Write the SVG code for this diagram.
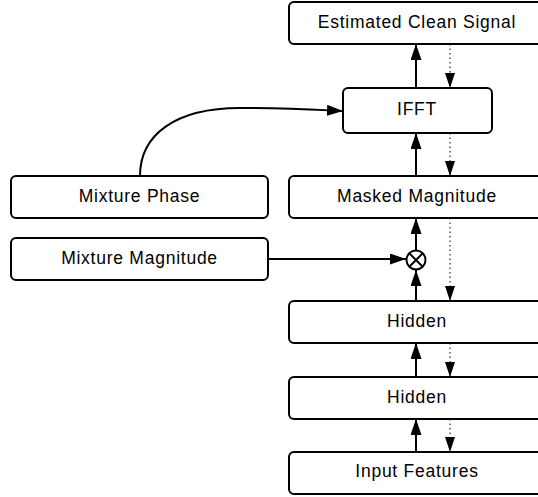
<svg xmlns="http://www.w3.org/2000/svg" width="538" height="497" viewBox="0 0 538 497">
  <style>
    .box { fill: #ffffff; stroke: #000000; stroke-width: 2; }
    .lbl { font-family: "Liberation Sans", Arial, sans-serif; font-size: 17.5px; letter-spacing: 0.75px; fill: #000000; text-anchor: middle; }
    .up { fill: none; stroke: #000000; stroke-width: 2; marker-end: url(#solidHead); }
    .down { fill: none; stroke: #000000; stroke-width: 1; stroke-dasharray: 1.5 3; marker-end: url(#dotHead); }
  </style>
  <defs>
    <marker id="solidHead" viewBox="0 0 16 11" refX="16" refY="5.5" markerWidth="16" markerHeight="11" markerUnits="userSpaceOnUse" orient="auto">
      <path d="M0,0 L16,5.5 L0,11 Z" fill="#000000"/>
    </marker>
    <marker id="dotHead" viewBox="0 0 15 10" refX="15" refY="5" markerWidth="15" markerHeight="10" markerUnits="userSpaceOnUse" orient="auto">
      <path d="M0,0 L15,5 L0,10 Z" fill="#000000"/>
    </marker>
  </defs>

  <g id="connectors">
    <!-- forward (solid) arrows -->
    <path class="up" d="M416,88 L416,44"/>
    <path class="up" d="M416,176 L416,133"/>
    <path class="up" d="M416,250 L416,218"/>
    <path class="up" d="M416,301 L416,270"/>
    <path class="up" d="M416,377 L416,343"/>
    <path class="up" d="M416,452 L416,419"/>
    <path class="up" d="M268,259 L406,259"/>
    <path class="up" d="M140,176 C140,135 175,108 240,108 C290,108 320,110 343,111"/>
    <!-- backward (dotted) arrows -->
    <path class="down" d="M450,44 L450,88"/>
    <path class="down" d="M450,133 L450,176"/>
    <path class="down" d="M450,218 L450,301"/>
    <path class="down" d="M450,343 L450,377"/>
    <path class="down" d="M450,419 L450,452"/>
  </g>

  <g id="node-estimated">
    <rect class="box" x="289" y="2" width="256" height="42" rx="5"/>
    <text class="lbl" x="417" y="28">Estimated Clean Signal</text>
  </g>
  <g id="node-ifft">
    <rect class="box" x="343" y="88" width="149" height="45" rx="5"/>
    <text class="lbl" x="417" y="115">IFFT</text>
  </g>
  <g id="node-masked">
    <rect class="box" x="289" y="176" width="256" height="42" rx="5"/>
    <text class="lbl" x="417" y="202">Masked Magnitude</text>
  </g>
  <g id="node-product">
    <circle cx="416" cy="260" r="9.5" fill="#ffffff" stroke="#000000" stroke-width="2"/>
    <path d="M409.3,253.3 L422.7,266.7 M422.7,253.3 L409.3,266.7" stroke="#000000" stroke-width="2"/>
  </g>
  <g id="node-hidden1">
    <rect class="box" x="289" y="301" width="256" height="42" rx="5"/>
    <text class="lbl" x="417" y="327">Hidden</text>
  </g>
  <g id="node-hidden2">
    <rect class="box" x="289" y="377" width="256" height="42" rx="5"/>
    <text class="lbl" x="417" y="402.5">Hidden</text>
  </g>
  <g id="node-input">
    <rect class="box" x="289" y="452" width="256" height="42" rx="5"/>
    <text class="lbl" x="417" y="477">Input Features</text>
  </g>
  <g id="node-phase">
    <rect class="box" x="11" y="176" width="257" height="42" rx="5"/>
    <text class="lbl" x="139.5" y="202">Mixture Phase</text>
  </g>
  <g id="node-magnitude">
    <rect class="box" x="11" y="238" width="257" height="42" rx="5"/>
    <text class="lbl" x="139.5" y="264">Mixture Magnitude</text>
  </g>
</svg>
